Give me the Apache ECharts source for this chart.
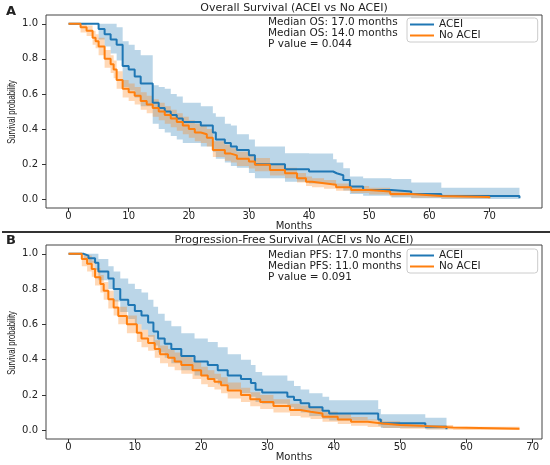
<!DOCTYPE html>
<html lang="en">
<head>
    <meta charset="UTF-8">
    <title>ACEI survival</title>
    <script src="https://cdn.jsdelivr.net/npm/echarts@6.0.0/dist/echarts.min.js"></script>
    <style>
        html, body { margin: 0; padding: 0; background: #fff; }
    </style>
</head>
<body>
<div id="main" style="width: 550px;height: 465px"></div>
<script>
    // axis ticks
    var xTicks = [0, 10, 20, 30, 40, 50, 60, 70];
    var yTicks = [0, 0.2, 0.4, 0.6, 0.8, 1.0];

    // A: overall survival, ACEI
    var osAceiT  = [0, 5, 6, 7, 8, 9, 10, 11, 12, 14, 15, 16, 17, 18, 19, 22, 24, 24.5, 26, 27, 28, 30, 31, 36, 40, 44, 44.6, 45.7, 46.8, 49, 53.7, 57, 62, 75];
    var osAceiS  = [1, 0.97, 0.94, 0.91, 0.88, 0.76, 0.74, 0.70, 0.66, 0.55, 0.52, 0.50, 0.48, 0.46, 0.44, 0.42, 0.38, 0.34, 0.32, 0.30, 0.28, 0.25, 0.20, 0.171, 0.158, 0.148, 0.137, 0.11, 0.072, 0.053, 0.044, 0.03, 0.018, 0.005];
    var osAceiHi = [1, 1, 1, 1, 0.98, 0.90, 0.88, 0.85, 0.82, 0.65, 0.64, 0.63, 0.60, 0.585, 0.55, 0.53, 0.49, 0.47, 0.43, 0.42, 0.37, 0.34, 0.30, 0.262, 0.26, 0.228, 0.21, 0.177, 0.13, 0.12, 0.115, 0.095, 0.065, 0.065];
    var osAceiLo = [1, 0.91, 0.87, 0.83, 0.79, 0.64, 0.62, 0.58, 0.53, 0.43, 0.40, 0.38, 0.36, 0.34, 0.32, 0.30, 0.27, 0.23, 0.21, 0.19, 0.18, 0.15, 0.12, 0.10, 0.09, 0.08, 0.07, 0.05, 0.03, 0.02, 0.01, 0.005, 0.002, 0];

    // A: overall survival, No ACEI
    var osNoT  = [0, 2, 3, 4, 4.5, 5, 6, 7, 7.5, 8, 9, 10, 11, 12, 13, 14, 15, 16, 17, 18, 19, 20, 21, 22, 23, 24, 26, 27, 28, 30, 31, 33.5, 36, 38, 39.5, 40.5, 42.5, 44.5, 47, 50, 53.5, 57, 62, 70];
    var osNoS  = [1, 0.98, 0.96, 0.92, 0.90, 0.87, 0.80, 0.77, 0.74, 0.68, 0.63, 0.61, 0.59, 0.56, 0.54, 0.52, 0.50, 0.48, 0.46, 0.44, 0.42, 0.40, 0.38, 0.37, 0.35, 0.28, 0.26, 0.25, 0.23, 0.215, 0.197, 0.167, 0.148, 0.12, 0.10, 0.091, 0.082, 0.068, 0.053, 0.044, 0.03, 0.019, 0.012, 0.005];
    var osNoHi = [1, 1, 0.99, 0.96, 0.94, 0.92, 0.85, 0.82, 0.79, 0.73, 0.68, 0.66, 0.64, 0.61, 0.59, 0.57, 0.55, 0.53, 0.51, 0.49, 0.47, 0.45, 0.43, 0.42, 0.40, 0.33, 0.31, 0.29, 0.27, 0.255, 0.235, 0.20, 0.18, 0.15, 0.13, 0.12, 0.11, 0.09, 0.075, 0.065, 0.05, 0.035, 0.025, 0.015];
    var osNoLo = [1, 0.95, 0.93, 0.88, 0.86, 0.82, 0.75, 0.72, 0.69, 0.63, 0.58, 0.56, 0.54, 0.51, 0.49, 0.47, 0.45, 0.43, 0.41, 0.39, 0.37, 0.35, 0.33, 0.32, 0.30, 0.24, 0.22, 0.21, 0.19, 0.175, 0.16, 0.135, 0.12, 0.095, 0.075, 0.068, 0.06, 0.048, 0.035, 0.027, 0.015, 0.008, 0.004, 0.001];

    // B: progression-free survival, ACEI
    var pfsAceiT  = [0, 2.3, 3, 4, 4.5, 6, 6.8, 7.8, 9, 10, 11, 12, 12.8, 13.5, 14.5, 15.5, 17, 19, 21, 22.5, 24, 26, 27.5, 28.2, 29.2, 33, 34, 35, 36.3, 38.3, 39.3, 46.7, 47.1, 53.8, 57];
    var pfsAceiS  = [1, 0.99, 0.975, 0.95, 0.90, 0.86, 0.80, 0.74, 0.71, 0.676, 0.65, 0.61, 0.56, 0.52, 0.49, 0.46, 0.42, 0.39, 0.37, 0.34, 0.31, 0.29, 0.267, 0.229, 0.213, 0.19, 0.171, 0.152, 0.13, 0.11, 0.095, 0.06, 0.04, 0.02, 0.005];
    var pfsAceiHi = [1, 1, 1, 1, 0.97, 0.93, 0.90, 0.86, 0.83, 0.80, 0.78, 0.74, 0.70, 0.66, 0.62, 0.59, 0.55, 0.52, 0.50, 0.47, 0.43, 0.40, 0.37, 0.33, 0.31, 0.28, 0.25, 0.23, 0.21, 0.19, 0.17, 0.12, 0.09, 0.07, 0.07];
    var pfsAceiLo = [1, 0.97, 0.95, 0.91, 0.85, 0.80, 0.73, 0.67, 0.63, 0.60, 0.57, 0.53, 0.48, 0.44, 0.41, 0.38, 0.34, 0.31, 0.29, 0.26, 0.23, 0.21, 0.19, 0.16, 0.15, 0.13, 0.11, 0.10, 0.08, 0.065, 0.055, 0.025, 0.012, 0.005, 0];

    // B: progression-free survival, No ACEI
    var pfsNoT  = [0, 2, 2.8, 3.5, 4, 4.8, 5.3, 6, 6.8, 7.5, 8.8, 10.3, 11, 12, 13, 13.8, 15, 16, 17, 18.7, 20, 21, 22, 23, 24, 26, 27.4, 28.9, 30.9, 33.4, 35, 36.5, 38.3, 40.6, 42.6, 45.1, 47.4, 50, 54, 58, 68];
    var pfsNoS  = [1, 0.97, 0.943, 0.914, 0.867, 0.829, 0.79, 0.743, 0.695, 0.648, 0.60, 0.552, 0.52, 0.495, 0.46, 0.43, 0.41, 0.39, 0.37, 0.34, 0.31, 0.29, 0.275, 0.255, 0.225, 0.20, 0.175, 0.16, 0.137, 0.114, 0.105, 0.095, 0.076, 0.061, 0.048, 0.038, 0.029, 0.023, 0.015, 0.008, 0.004];
    var pfsNoHi = [1, 1, 0.99, 0.96, 0.92, 0.88, 0.84, 0.79, 0.74, 0.70, 0.65, 0.60, 0.57, 0.54, 0.51, 0.48, 0.46, 0.44, 0.42, 0.39, 0.36, 0.34, 0.32, 0.30, 0.27, 0.24, 0.215, 0.20, 0.175, 0.15, 0.14, 0.13, 0.105, 0.09, 0.075, 0.06, 0.05, 0.04, 0.03, 0.02, 0.012];
    var pfsNoLo = [1, 0.93, 0.90, 0.87, 0.82, 0.78, 0.74, 0.69, 0.65, 0.60, 0.55, 0.50, 0.47, 0.45, 0.41, 0.38, 0.36, 0.34, 0.32, 0.29, 0.26, 0.245, 0.23, 0.21, 0.18, 0.16, 0.135, 0.12, 0.10, 0.08, 0.072, 0.063, 0.048, 0.035, 0.025, 0.018, 0.012, 0.008, 0.004, 0.001, 0];

    var blue = '#1f77b4';
    var orange = '#ff7f0e';
    var font = 'DejaVu Sans';

    function pairs(t, v) {
        return t.map(function (x, i) { return [x, v[i]]; });
    }

    // confidence band: one stepped polygon, corners placed with api.coord
    function band(idx, t, lo, hi, fill) {
        return {
            type: 'custom', xAxisIndex: idx, yAxisIndex: idx, silent: true, z: 1,
            data: t.map(function (x, i) { return [x, lo[i], hi[i]]; }),
            encode: { x: 0, y: [1, 2] },
            renderItem: function (params, api) {
                if (params.dataIndex !== 0) return;
                var top = [], bot = [];
                for (var i = 0; i < t.length; i++) {
                    var tn = i < t.length - 1 ? t[i + 1] : t[i];
                    top.push(api.coord([t[i], hi[i]]), api.coord([tn, hi[i]]));
                    bot.push(api.coord([t[i], lo[i]]), api.coord([tn, lo[i]]));
                }
                return {
                    type: 'polygon',
                    shape: { points: top.concat(bot.reverse()) },
                    style: { fill: fill }
                };
            }
        };
    }

    function curve(name, idx, t, s, color) {
        return {
            name: name, type: 'line', xAxisIndex: idx, yAxisIndex: idx,
            step: 'end', symbol: 'none', z: 3,
            itemStyle: { color: color },
            lineStyle: { color: color, width: 2 },
            data: pairs(t, s)
        };
    }

    function xAxis(idx, max) {
        return {
            type: 'value', gridIndex: idx, min: -max * 0.05, max: max * 1.05,
            name: 'Months', nameLocation: 'middle', nameGap: 11,
            nameTextStyle: { fontFamily: font, fontSize: 10, color: '#222' },
            axisLine: { show: false, onZero: false },
            splitLine: { show: false },
            axisTick: { show: true, length: 4, customValues: xTicks, lineStyle: { color: '#333' } },
            axisLabel: { customValues: xTicks, margin: 3, fontFamily: font, fontSize: 10, color: '#222' }
        };
    }

    function yAxis(idx) {
        return {
            type: 'value', gridIndex: idx, min: -0.05, max: 1.05,
            axisLine: { show: false, onZero: false },
            splitLine: { show: false },
            axisTick: { show: true, length: 4, customValues: yTicks, lineStyle: { color: '#333' } },
            axisLabel: {
                customValues: yTicks, margin: 8, fontFamily: font, fontSize: 10, color: '#222',
                formatter: function (v) { return v.toFixed(1); }
            }
        };
    }

    function legend(top) {
        return {
            orient: 'vertical', left: 407, top: top,
            data: ['ACEI', 'No ACEI'],
            icon: 'rect', itemWidth: 24, itemHeight: 2, itemGap: 0,
            padding: [1, 57, 1, 3],
            backgroundColor: 'rgba(255,255,255,0.8)',
            borderColor: '#ccc', borderWidth: 1, borderRadius: 3,
            textStyle: { fontFamily: font, fontSize: 10.5, color: '#222', lineHeight: 11 }
        };
    }

    function txt(x, y, s, opt) {
        opt = opt || {};
        return {
            type: 'text', x: x, y: y, z: 10,
            rotation: opt.rotation || 0,
            scaleX: opt.scaleX || 1,
            style: {
                text: s, fill: '#222',
                font: (opt.weight || 'normal') + ' ' + (opt.size || 10.5) + 'px "' + (opt.family || font) + '"',
                textAlign: opt.align || 'left', textVerticalAlign: 'middle'
            }
        };
    }

    var yName = { rotation: Math.PI / 2, align: 'center', family: 'Liberation Sans', size: 11.5, scaleX: 0.66 };

    var blueBand = 'rgba(31,119,180,0.3)';
    var orangeBand = 'rgba(255,127,14,0.3)';

    var series = [
        band(0, osAceiT, osAceiLo, osAceiHi, blueBand),
        band(0, osNoT, osNoLo, osNoHi, orangeBand),
        band(1, pfsAceiT, pfsAceiLo, pfsAceiHi, blueBand),
        band(1, pfsNoT, pfsNoLo, pfsNoHi, orangeBand),
        curve('ACEI', 0, osAceiT, osAceiS, blue),
        curve('No ACEI', 0, osNoT, osNoS, orange),
        curve('ACEI', 1, pfsAceiT, pfsAceiS, blue),
        curve('No ACEI', 1, pfsNoT, pfsNoS, orange)
    ];

    var chart = echarts.init(document.getElementById('main'));
    chart.setOption({
        animation: false,
        grid: [
            { left: 46, top: 15, width: 496, height: 193, outerBoundsMode: 'none', show: true, borderColor: '#444', borderWidth: 1 },
            { left: 46, top: 245, width: 496, height: 194, outerBoundsMode: 'none', show: true, borderColor: '#444', borderWidth: 1 }
        ],
        xAxis: [xAxis(0, 75), xAxis(1, 68)],
        yAxis: [yAxis(0), yAxis(1)],
        legend: [legend(18), legend(249)],
        series: series,
        graphic: [
            txt(294, 8, 'Overall Survival (ACEI vs No ACEI)', { align: 'center', size: 11 }),
            txt(6, 12, 'A', { weight: 'bold', size: 13 }),
            txt(12, 112, 'Survival probability', yName),
            txt(268, 22, 'Median OS: 17.0 months'),
            txt(268, 33, 'Median OS: 14.0 months'),
            txt(268, 44, 'P value = 0.044'),
            {
                type: 'line', z: 10,
                shape: { x1: 2, y1: 232, x2: 550, y2: 232 },
                style: { stroke: '#333', lineWidth: 2 }
            },
            txt(294, 240, 'Progression-Free Survival (ACEI vs No ACEI)', { align: 'center', size: 11 }),
            txt(6, 241, 'B', { weight: 'bold', size: 13 }),
            txt(12, 343, 'Survival probability', yName),
            txt(268, 255, 'Median PFS: 17.0 months'),
            txt(268, 266, 'Median PFS: 11.0 months'),
            txt(268, 277, 'P value = 0.091')
        ]
    });
</script>
</body>
</html>
